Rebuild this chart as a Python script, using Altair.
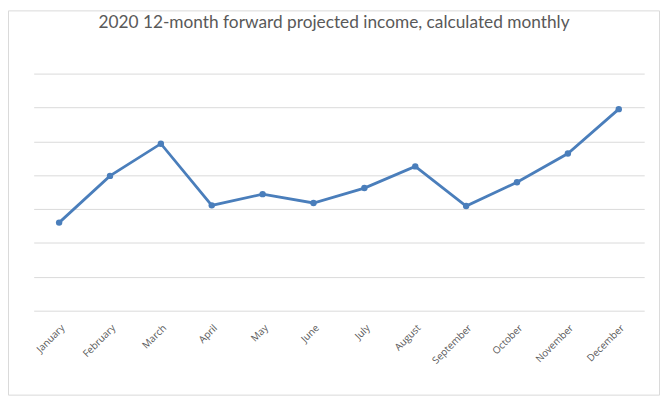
import altair as alt
import pandas as pd

months = ["January", "February", "March", "April", "May", "June", "July",
          "August", "September", "October", "November", "December"]
income = [2.60, 3.98, 4.93, 3.11, 3.44, 3.18, 3.62, 4.26, 3.09, 3.79, 4.64, 5.95]
grid_values = [0, 1, 2, 3, 4, 5, 6, 7]

df = pd.DataFrame({"month": months, "income": income})

W, H = 618, 240
PAD = {"left": 26, "top": 64, "right": 16, "bottom": 87}

border = alt.Chart(pd.DataFrame({"a": [0]})).mark_rect(
    fill=None, stroke="#d9d9d9", strokeWidth=1
).encode(
    x=alt.value(-PAD["left"] + 0.5),
    x2=alt.value(W + PAD["right"] - 0.5),
    y=alt.value(-PAD["top"] + 0.5),
    y2=alt.value(H + PAD["bottom"] - 1.5),
)

line = alt.Chart(df).mark_line(
    color="#4a7ebb", strokeWidth=2.8,
    point=alt.OverlayMarkDef(color="#4a7ebb", size=42, filled=True, opacity=1),
).encode(
    x=alt.X("month:N", sort=months, title=None,
            scale=alt.Scale(paddingInner=0, paddingOuter=0),
            axis=alt.Axis(labelAngle=-45, domain=False, ticks=False,
                          labelFont="Open Sans", labelFontSize=10,
                          labelColor="#595959", labelPadding=12)),
    y=alt.Y("income:Q", title=None,
            scale=alt.Scale(domain=[0, 7], nice=False, zero=True),
            axis=alt.Axis(values=grid_values, labels=False, ticks=False,
                          domain=False, grid=True, gridColor="#d9d9d9",
                          gridWidth=1)),
)

chart = alt.layer(border, line).properties(
    width=W, height=H,
    autosize=alt.AutoSizeParams(type="none"),
    padding=PAD,
    title=alt.TitleParams(
        "2020 12-month forward projected income, calculated monthly",
        font="Lato", fontSize=17.5, fontWeight="normal", color="#595959",
        anchor="middle", dx=-5, offset=0, dy=39, baseline="bottom",
    ),
).configure_view(stroke=None)

chart.save("out.html", embed_options={"renderer": "svg", "actions": False})
